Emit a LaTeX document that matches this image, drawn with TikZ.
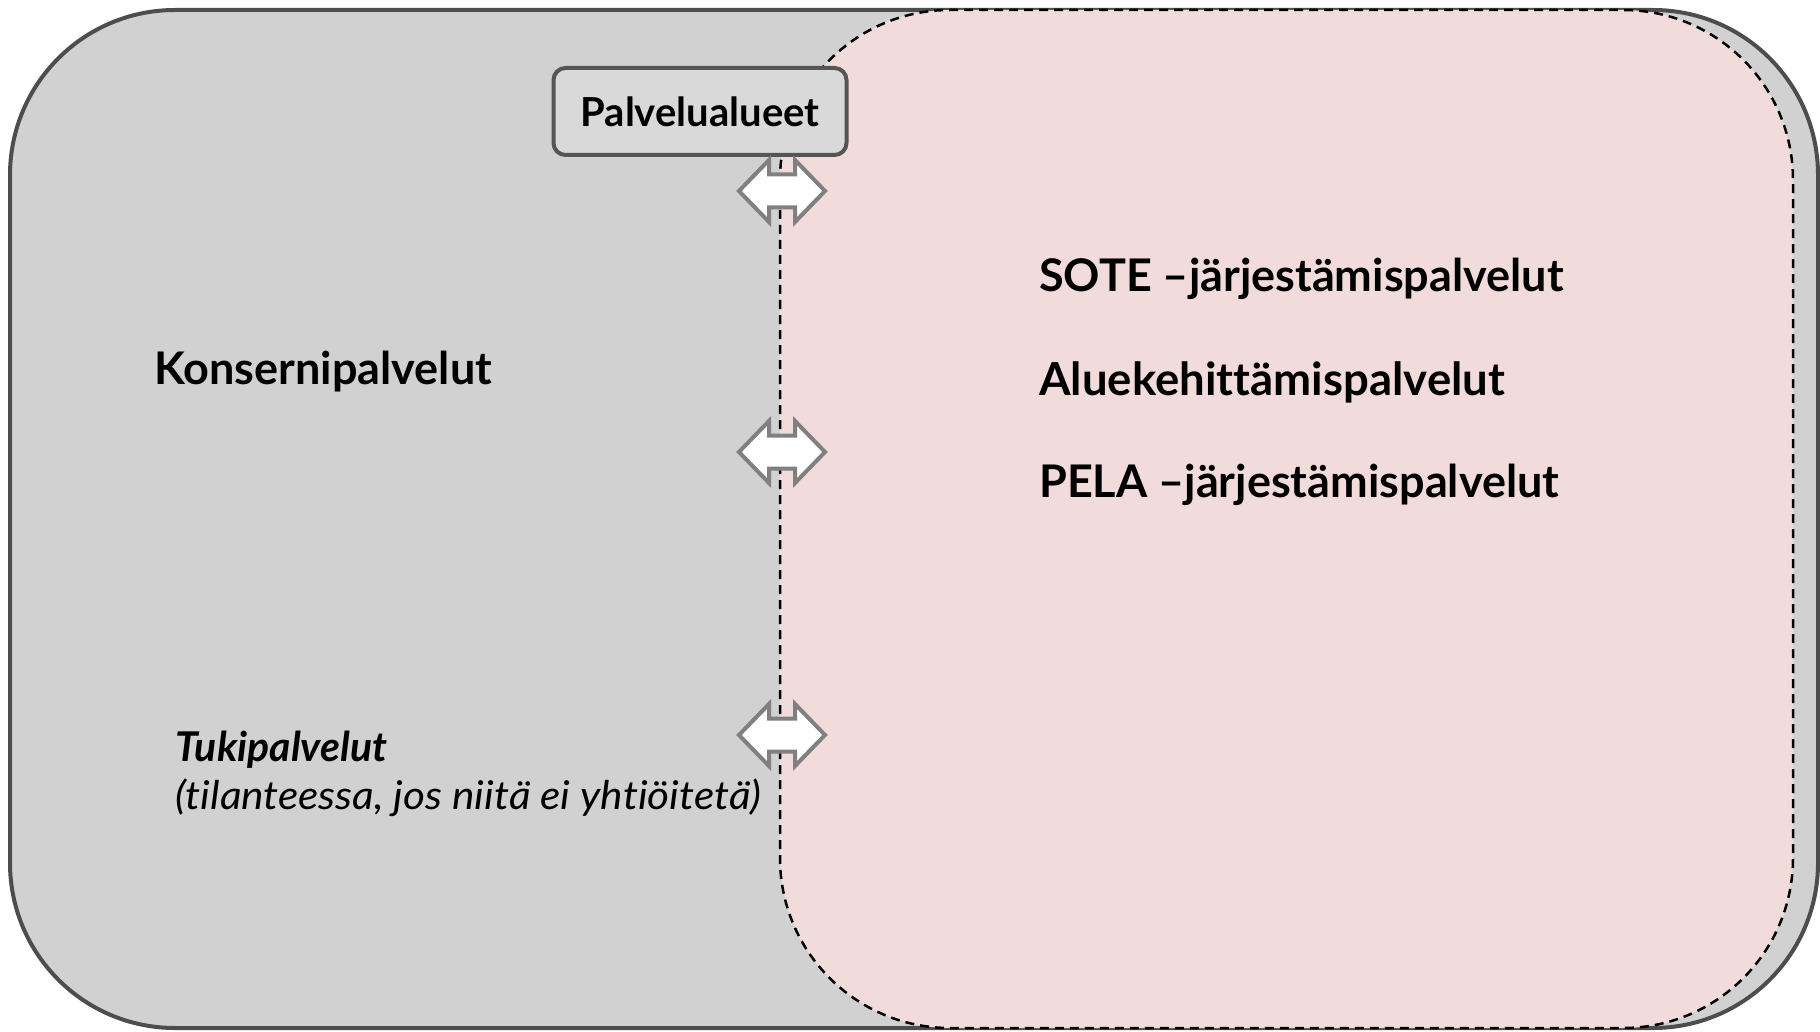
\documentclass[tikz,border=0pt]{standalone}
\usepackage{fontspec}
\setmainfont{Lato}[Ligatures=NoCommon]
\newfontfamily\widefont{Lato}[Ligatures=NoCommon,FakeStretch=1.07]
\definecolor{outerfill}{RGB}{209,209,209}
\definecolor{outerline}{RGB}{77,77,77}
\definecolor{pinkfill}{RGB}{242,220,219}
\definecolor{boxfill}{RGB}{217,217,217}
\definecolor{boxline}{RGB}{85,85,85}
\definecolor{arrline}{RGB}{128,128,128}
\begin{document}
\begin{tikzpicture}[x=1pt,y=-1pt,
  outerbox/.style={fill=outerfill,draw=outerline,line width=4pt,rounded corners=165pt},
  innerbox/.style={fill=pinkfill,draw=black,line width=2.5pt,dash pattern=on 9pt off 6pt,rounded corners=170pt},
  labelbox/.style={fill=boxfill,draw=boxline,line width=4pt,rounded corners=12pt,minimum width=293pt,minimum height=87pt,inner sep=0pt,font=\fontsize{40}{46}\selectfont\bfseries},
  maintext/.style={anchor=base west,inner sep=0pt,font=\fontsize{45}{54}\selectfont\bfseries},
  subtext/.style={anchor=base west,inner sep=0pt,font=\widefont\fontsize{39.6}{46}\selectfont\itshape},
  dblarrow/.pic={\draw[fill=white,draw=arrline,line width=4pt,line join=miter]
     (-43,0) -- (-13,-31) -- (-13,-16.5) -- (13,-16.5) -- (13,-31) -- (43,0)
     -- (13,31) -- (13,16.5) -- (-13,16.5) -- (-13,31) -- cycle;}
]
\useasboundingbox (0,0) rectangle (1820,1032);
\draw[outerbox] (10,10) rectangle (1818,1028);
\draw[innerbox] (780,10) rectangle (1793,1028);
\node[labelbox] (pa) at (700,111.5) {Palvelualueet};
\pic at (782,191) {dblarrow};
\pic at (782,452) {dblarrow};
\pic at (782,735) {dblarrow};
\node[maintext] (konserni) at (154,384) {Konsernipalvelut};
\node[maintext] (sote) at (1039,291) {SOTE –järjestämispalvelut};
\node[maintext,font=\fontsize{45.5}{54}\selectfont\bfseries] (alue) at (1039,395) {Aluekehittämispalvelut};
\node[maintext] (pela) at (1039,497) {PELA –järjestämispalvelut};
\node[anchor=base west,inner sep=0pt,font=\fontsize{41}{48}\selectfont\bfseries\itshape] (tuki) at (175,761) {Tukipalvelut};
\node[subtext] (tilanne) at (175,809) {(tilanteessa, jos niitä ei yhtiöitetä)};
\end{tikzpicture}
\end{document}
